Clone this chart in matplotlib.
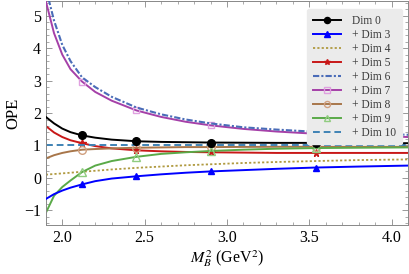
import matplotlib
matplotlib.use("Agg")
import matplotlib.pyplot as plt
from matplotlib.ticker import MultipleLocator, FormatStrFormatter, FuncFormatter

plt.rcParams['font.family'] = ['Liberation Serif', 'DejaVu Serif']
plt.rcParams['mathtext.fontset'] = 'stix'

x = [1.9, 1.95, 2.0, 2.05, 2.12, 2.2, 2.3, 2.45, 2.6, 2.75, 2.9, 3.1, 3.3, 3.54, 3.8, 4.1]
marker_idx = [4, 7, 10, 13]

dim0 = [1.88, 1.68, 1.52, 1.41, 1.31, 1.24, 1.18, 1.13, 1.11, 1.10, 1.09, 1.085, 1.08, 1.08, 1.075, 1.07]
dim3 = [-0.65, -0.5, -0.39, -0.3, -0.2, -0.1, -0.02, 0.05, 0.11, 0.16, 0.2, 0.24, 0.28, 0.32, 0.35, 0.38]
dim4 = [0.1, 0.12, 0.14, 0.16, 0.19, 0.22, 0.26, 0.31, 0.35, 0.39, 0.42, 0.46, 0.49, 0.52, 0.55, 0.57]
dim5 = [1.6, 1.4, 1.26, 1.16, 1.07, 0.98, 0.91, 0.85, 0.82, 0.80, 0.79, 0.78, 0.77, 0.77, 0.77, 0.77]
dim6 = [5.85, 4.85, 4.1, 3.6, 3.1, 2.8, 2.5, 2.17, 1.96, 1.8, 1.68, 1.56, 1.49, 1.42, 1.37, 1.33]
dim7 = [5.45, 4.46, 3.8, 3.35, 2.97, 2.65, 2.38, 2.08, 1.88, 1.73, 1.62, 1.51, 1.43, 1.36, 1.31, 1.26]
dim8 = [0.6, 0.7, 0.77, 0.82, 0.87, 0.89, 0.91, 0.93, 0.94, 0.95, 0.95, 0.955, 0.96, 0.96, 0.96, 0.96]
dim9 = [-1.08, -0.55, -0.28, -0.08, 0.18, 0.38, 0.52, 0.65, 0.74, 0.79, 0.83, 0.87, 0.9, 0.92, 0.93, 0.94]
dim10 = [1.0] * len(x)

labels = ["Dim 0", "+ Dim 3", "+ Dim 4", "+ Dim 5", "+ Dim 6", "+ Dim 7", "+ Dim 8", "+ Dim 9", "+ Dim 10"]

fig = plt.figure(figsize=(4.09, 2.74), dpi=100)
ax = fig.add_axes([0.112, 0.179, 0.886, 0.817])

lw = 1.4
ax.plot(x, dim0, color='black', lw=lw, marker='o', ms=5.5, markevery=marker_idx, label=labels[0], zorder=5)
ax.plot(x, dim3, color='#0000ff', lw=lw, marker='^', ms=5, markevery=marker_idx, label=labels[1], zorder=5)
ax.plot(x, dim4, color='#b09a40', lw=1.3, ls=(0, (1.2, 1.2)), label=labels[2])
ax.plot(x, dim5, color='#c81818', lw=lw, marker='*', ms=5.5, markevery=marker_idx, label=labels[3])
ax.plot(x, dim6, color='#4a6cb8', lw=1.5, ls=(0, (3, 1, 1, 1)), label=labels[4], zorder=4)
ax.plot(x, dim7, color='#a540a8', lw=lw, marker='s', ms=5, mfc='none', mec='#e0a0e0', markevery=marker_idx, label=labels[5], zorder=3)
ax.plot(x, dim8, color='#a8764a', lw=lw, marker='o', ms=5.5, mfc='none', mec='#d0a080', markevery=marker_idx, label=labels[6])
ax.plot(x, dim9, color='#5aaa48', lw=lw, marker='^', ms=5.5, mfc='none', mec='#90cc80', markevery=marker_idx, label=labels[7])
ax.plot(x, dim10, color='#3f83b5', lw=1.4, ls=(0, (3.5, 2)), label=labels[8])

ax.set_xlim(1.9, 4.1)
ax.set_ylim(-1.45, 5.45)
ax.xaxis.set_major_locator(MultipleLocator(0.5))
ax.xaxis.set_minor_locator(MultipleLocator(0.1))
ax.yaxis.set_major_locator(MultipleLocator(1))
ax.yaxis.set_minor_locator(MultipleLocator(0.2))
ax.tick_params(which='both', direction='in', top=True, right=True, color='#888888', labelsize=11.5)
ax.tick_params(which='major', length=4, width=0.6)
ax.tick_params(which='minor', length=2, width=0.5)
ax.xaxis.set_major_formatter(FormatStrFormatter('%.1f'))
ax.yaxis.set_major_formatter(FuncFormatter(lambda v, p: ('\u2212%d' % -v) if v < 0 else '%d' % v))
for s in ax.spines.values():
    s.set_color('#888888')
    s.set_linewidth(0.7)

ax.set_xlabel(r'$M_B^2$ (GeV$^2$)', fontsize=11.5, labelpad=2)
ax.set_ylabel('OPE', fontsize=12, labelpad=2)

leg = ax.legend(loc='upper right', bbox_to_anchor=(0.983, 0.964), borderaxespad=0.0,
                fontsize=8.3, frameon=True, fancybox=True, handlelength=2.4,
                handletextpad=1.0, labelspacing=0.17, borderpad=0.5, markerscale=0.8)
leg.get_frame().set_facecolor('#ebebeb')
leg.get_frame().set_edgecolor('#ebebeb')
leg.get_frame().set_alpha(1.0)
for t in leg.get_texts():
    t.set_color('#3a3a3a')

fig.savefig('out.png', dpi=100)
